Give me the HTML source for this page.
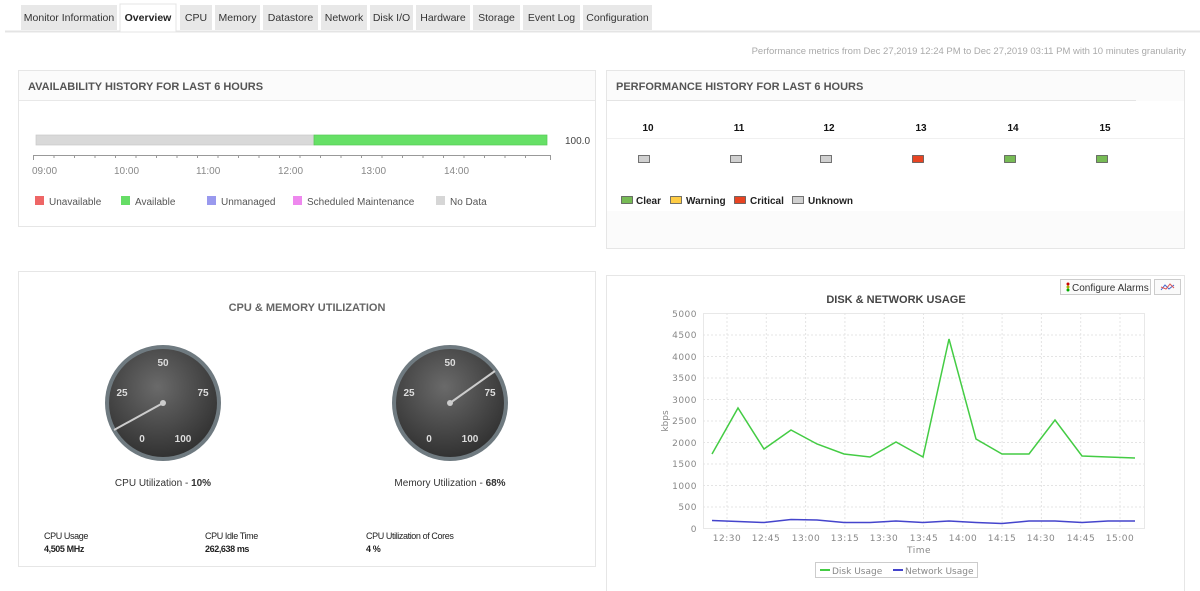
<!DOCTYPE html>
<html><head><meta charset="utf-8"><style>
body{margin:0;background:#fff;}
svg{display:block;font-family:"Liberation Sans",Arial,sans-serif;}
</style></head><body>
<svg width="1200" height="591" viewBox="0 0 1200 591" xmlns="http://www.w3.org/2000/svg">
<defs>
<radialGradient id="gg" cx="45%" cy="35%" r="70%"><stop offset="0" stop-color="#6a6a6a"/><stop offset="1" stop-color="#2e2e2e"/></radialGradient>
</defs>
<!-- tabs -->
<line x1="5" y1="31.5" x2="1200" y2="31.5" stroke="#e4e4e4" stroke-width="2"/>
<g font-size="10.5" fill="#333">
<rect x="21" y="5" width="96" height="25" fill="#e8e8e8"/><text x="69" y="21" text-anchor="middle">Monitor Information</text>
<rect x="120" y="4" width="56" height="28" fill="#fff" stroke="#e4e4e4"/><text x="148" y="21" text-anchor="middle" font-weight="bold" fill="#222">Overview</text>
<rect x="180" y="5" width="32" height="25" fill="#e8e8e8"/><text x="196" y="21" text-anchor="middle">CPU</text>
<rect x="215" y="5" width="45" height="25" fill="#e8e8e8"/><text x="237.5" y="21" text-anchor="middle">Memory</text>
<rect x="263" y="5" width="55" height="25" fill="#e8e8e8"/><text x="290.5" y="21" text-anchor="middle">Datastore</text>
<rect x="321" y="5" width="46" height="25" fill="#e8e8e8"/><text x="344" y="21" text-anchor="middle">Network</text>
<rect x="370" y="5" width="43" height="25" fill="#e8e8e8"/><text x="391.5" y="21" text-anchor="middle">Disk I/O</text>
<rect x="416" y="5" width="54" height="25" fill="#e8e8e8"/><text x="443" y="21" text-anchor="middle">Hardware</text>
<rect x="473" y="5" width="47" height="25" fill="#e8e8e8"/><text x="496.5" y="21" text-anchor="middle">Storage</text>
<rect x="523" y="5" width="57" height="25" fill="#e8e8e8"/><text x="551.5" y="21" text-anchor="middle">Event Log</text>
<rect x="583" y="5" width="69" height="25" fill="#e8e8e8"/><text x="617.5" y="21" text-anchor="middle">Configuration</text>
</g>
<text x="1186" y="54" font-size="9.5" fill="#aaa" text-anchor="end">Performance metrics from Dec 27,2019 12:24 PM to Dec 27,2019 03:11 PM with 10 minutes granularity</text>

<!-- availability panel -->
<rect x="18.5" y="70.5" width="577" height="156" fill="#fbfbfb" stroke="#e6e6e6"/>
<rect x="19" y="101" width="576" height="125" fill="#fff"/>
<line x1="19" y1="100.5" x2="595" y2="100.5" stroke="#e8e8e8"/>
<text x="28" y="90" font-size="11" font-weight="bold" fill="#555">AVAILABILITY HISTORY FOR LAST 6 HOURS</text>
<rect x="36" y="135" width="278" height="10" fill="#d9d9d9" stroke="#c8c8c8" stroke-width="0.7"/>
<rect x="314" y="135" width="233" height="10" fill="#66e066" stroke="#55c855" stroke-width="0.7"/>
<text x="565" y="144" font-size="10" fill="#444">100.0</text>
<line x1="33" y1="155.5" x2="551" y2="155.5" stroke="#999"/>
<g font-size="10" fill="#888">
<text x="32" y="174">09:00</text><text x="114" y="174">10:00</text><text x="196" y="174">11:00</text><text x="278" y="174">12:00</text><text x="361" y="174">13:00</text><text x="444" y="174">14:00</text>
</g>
<g font-size="10" fill="#555">
<rect x="35" y="196" width="9" height="9" fill="#ee6666"/><text x="49" y="205">Unavailable</text>
<rect x="121" y="196" width="9" height="9" fill="#66dd66"/><text x="135" y="205">Available</text>
<rect x="207" y="196" width="9" height="9" fill="#9999ee"/><text x="221" y="205">Unmanaged</text>
<rect x="293" y="196" width="9" height="9" fill="#ee88ee"/><text x="307" y="205">Scheduled Maintenance</text>
<rect x="436" y="196" width="9" height="9" fill="#d6d6d6"/><text x="450" y="205">No Data</text>
</g>

<!-- performance panel -->
<rect x="606.5" y="70.5" width="578" height="178" fill="#fbfbfb" stroke="#e6e6e6"/>
<rect x="607" y="101" width="577" height="110" fill="#fff"/>
<line x1="607" y1="100.5" x2="1136" y2="100.5" stroke="#e4e4e4"/>
<text x="616" y="90" font-size="11" font-weight="bold" fill="#555">PERFORMANCE HISTORY FOR LAST 6 HOURS</text>
<line x1="607" y1="138.5" x2="1184" y2="138.5" stroke="#f0f0f0"/>
<g font-size="10" font-weight="bold" fill="#111" text-anchor="middle">
<text x="648" y="131">10</text><text x="739" y="131">11</text><text x="829" y="131">12</text><text x="921" y="131">13</text><text x="1013" y="131">14</text><text x="1105" y="131">15</text>
</g>
<g stroke="#555" stroke-width="0.8">
<rect x="638.5" y="155.5" width="11" height="7" fill="#d0d0d0"/>
<rect x="730.5" y="155.5" width="11" height="7" fill="#d0d0d0"/>
<rect x="820.5" y="155.5" width="11" height="7" fill="#d0d0d0"/>
<rect x="912.5" y="155.5" width="11" height="7" fill="#e84422"/>
<rect x="1004.5" y="155.5" width="11" height="7" fill="#77bb55"/>
<rect x="1096.5" y="155.5" width="11" height="7" fill="#77bb55"/>
<rect x="621.5" y="196.5" width="11" height="7" fill="#77bb55"/>
<rect x="670.5" y="196.5" width="11" height="7" fill="#ffcc44"/>
<rect x="734.5" y="196.5" width="11" height="7" fill="#e84422"/>
<rect x="792.5" y="196.5" width="11" height="7" fill="#d0d0d0"/>
</g>
<g font-size="10" font-weight="bold" fill="#222">
<text x="636" y="204">Clear</text><text x="686" y="204">Warning</text><text x="750" y="204">Critical</text><text x="808" y="204">Unknown</text>
</g>

<!-- cpu & memory panel -->
<rect x="18.5" y="271.5" width="577" height="295" fill="#fff" stroke="#e6e6e6"/>
<text x="307" y="311" font-size="11" font-weight="bold" fill="#666" text-anchor="middle">CPU &amp; MEMORY UTILIZATION</text>
<g>
<circle cx="163" cy="403" r="58" fill="#6f7a80"/>
<circle cx="163" cy="403" r="54" fill="url(#gg)"/>
<g font-size="10" font-weight="bold" fill="#ddd" text-anchor="middle">
<text x="163" y="366">50</text><text x="122" y="396">25</text><text x="203" y="396">75</text><text x="142" y="442">0</text><text x="183" y="442">100</text>
</g>
<line x1="163" y1="403" x2="114" y2="430" stroke="#ccc" stroke-width="2"/>
<circle cx="163" cy="403" r="3" fill="#ccc"/>
</g>
<g>
<circle cx="450" cy="403" r="58" fill="#6f7a80"/>
<circle cx="450" cy="403" r="54" fill="url(#gg)"/>
<g font-size="10" font-weight="bold" fill="#ddd" text-anchor="middle">
<text x="450" y="366">50</text><text x="409" y="396">25</text><text x="490" y="396">75</text><text x="429" y="442">0</text><text x="470" y="442">100</text>
</g>
<line x1="450" y1="403" x2="495" y2="371" stroke="#ccc" stroke-width="2"/>
<circle cx="450" cy="403" r="3" fill="#ccc"/>
</g>
<text x="163" y="486" font-size="10" fill="#333" text-anchor="middle">CPU Utilization - <tspan font-weight="bold">10%</tspan></text>
<text x="450" y="486" font-size="10" fill="#333" text-anchor="middle">Memory Utilization - <tspan font-weight="bold">68%</tspan></text>
<g font-size="9" fill="#222" letter-spacing="-0.4">
<text x="44" y="539">CPU Usage</text><text x="44" y="552" font-weight="bold">4,505 MHz</text>
<text x="205" y="539">CPU Idle Time</text><text x="205" y="552" font-weight="bold">262,638 ms</text>
<text x="366" y="539">CPU Utilization of Cores</text><text x="366" y="552" font-weight="bold">4 %</text>
</g>

<!-- disk & network panel -->
<rect x="606.5" y="275.5" width="578" height="320" fill="#fff" stroke="#e6e6e6"/>
<rect x="1060.5" y="279.5" width="90" height="15" fill="#fafafa" stroke="#ccc"/>
<circle cx="1068" cy="284" r="1.5" fill="#c00"/><circle cx="1068" cy="287" r="1.5" fill="#aa0"/><circle cx="1068" cy="290" r="1.5" fill="#0a0"/>
<text x="1072" y="291" font-size="10" fill="#333">Configure Alarms</text>
<rect x="1154.5" y="279.5" width="26" height="15" fill="#fafafa" stroke="#ccc"/>
<polyline points="1161,290 1165,285 1169,289 1174,285" fill="none" stroke="#46c" stroke-width="1"/>
<polyline points="1161,287 1166,289 1170,284 1174,288" fill="none" stroke="#d55" stroke-width="1"/>
<text x="896" y="303" font-size="11" font-weight="bold" fill="#444" text-anchor="middle">DISK &amp; NETWORK USAGE</text>
<rect x="703.5" y="313.5" width="441" height="215" fill="#fff" stroke="#e8e8e8"/>
<g stroke="#e4e4e4" stroke-dasharray="2,2">
<line x1="703" y1="335" x2="1144" y2="335"/><line x1="703" y1="356.5" x2="1144" y2="356.5"/><line x1="703" y1="378" x2="1144" y2="378"/><line x1="703" y1="399.5" x2="1144" y2="399.5"/><line x1="703" y1="421" x2="1144" y2="421"/><line x1="703" y1="442.5" x2="1144" y2="442.5"/><line x1="703" y1="464" x2="1144" y2="464"/><line x1="703" y1="485.5" x2="1144" y2="485.5"/><line x1="703" y1="507" x2="1144" y2="507"/>
<line x1="727" y1="313" x2="727" y2="528"/><line x1="766.3" y1="313" x2="766.3" y2="528"/><line x1="805.6" y1="313" x2="805.6" y2="528"/><line x1="844.9" y1="313" x2="844.9" y2="528"/><line x1="884.2" y1="313" x2="884.2" y2="528"/><line x1="923.5" y1="313" x2="923.5" y2="528"/><line x1="962.8" y1="313" x2="962.8" y2="528"/><line x1="1002.1" y1="313" x2="1002.1" y2="528"/><line x1="1041.4" y1="313" x2="1041.4" y2="528"/><line x1="1080.7" y1="313" x2="1080.7" y2="528"/><line x1="1120" y1="313" x2="1120" y2="528"/>
</g>
<g font-size="9" fill="#888" text-anchor="end" font-family="DejaVu Sans,sans-serif" letter-spacing="0.5">
<text x="697" y="317">5000</text><text x="697" y="338">4500</text><text x="697" y="360">4000</text><text x="697" y="381">3500</text><text x="697" y="403">3000</text><text x="697" y="424">2500</text><text x="697" y="446">2000</text><text x="697" y="467">1500</text><text x="697" y="489">1000</text><text x="697" y="510">500</text><text x="697" y="532">0</text>
</g>
<g font-size="9" fill="#888" text-anchor="middle" font-family="DejaVu Sans,sans-serif" letter-spacing="0.5">
<text x="727" y="541">12:30</text><text x="766" y="541">12:45</text><text x="806" y="541">13:00</text><text x="845" y="541">13:15</text><text x="884" y="541">13:30</text><text x="924" y="541">13:45</text><text x="963" y="541">14:00</text><text x="1002" y="541">14:15</text><text x="1041" y="541">14:30</text><text x="1081" y="541">14:45</text><text x="1120" y="541">15:00</text>
<text x="919" y="553">Time</text>
</g>
<text x="0" y="0" font-size="9" fill="#888" font-family="DejaVu Sans,sans-serif" text-anchor="middle" transform="translate(668,421) rotate(-90)">kbps</text>
<polyline fill="none" stroke="#44cc44" stroke-width="1.5" points="712,454 738,408 764,449 791,430 817,444 844,454 870,457 896,442 923,457 949,339 976,439 1002,454 1029,454 1055,420 1082,456 1108,457 1135,458"/>
<polyline fill="none" stroke="#4444cc" stroke-width="1.5" points="712,520.5 738,521.5 764,522.5 791,519.5 817,520 844,522.5 870,522.5 896,521 923,522.5 949,521 976,522.5 1002,523.5 1029,521 1055,521 1082,522.5 1108,521 1135,521"/>
<rect x="815.5" y="562.5" width="162" height="15" fill="#fff" stroke="#ccc"/>
<line x1="820" y1="570" x2="830" y2="570" stroke="#44cc44" stroke-width="2"/>
<text x="832" y="574" font-size="9" fill="#888" font-family="DejaVu Sans,sans-serif">Disk Usage</text>
<line x1="893" y1="570" x2="903" y2="570" stroke="#4444cc" stroke-width="2"/>
<text x="905" y="574" font-size="9" fill="#888" font-family="DejaVu Sans,sans-serif">Network Usage</text>
<!-- availability ticks -->
<g stroke="#999">
<line x1="33.5" y1="155" x2="33.5" y2="160"/><line x1="54" y1="155" x2="54" y2="158"/><line x1="74.5" y1="155" x2="74.5" y2="158"/><line x1="95" y1="155" x2="95" y2="158"/><line x1="115.5" y1="155" x2="115.5" y2="158"/><line x1="136" y1="155" x2="136" y2="158"/><line x1="156.5" y1="155" x2="156.5" y2="158"/><line x1="177" y1="155" x2="177" y2="158"/><line x1="197.5" y1="155" x2="197.5" y2="158"/><line x1="218" y1="155" x2="218" y2="158"/><line x1="238.5" y1="155" x2="238.5" y2="158"/><line x1="259" y1="155" x2="259" y2="158"/><line x1="279.5" y1="155" x2="279.5" y2="158"/><line x1="300" y1="155" x2="300" y2="158"/><line x1="320.5" y1="155" x2="320.5" y2="158"/><line x1="341" y1="155" x2="341" y2="158"/><line x1="361.5" y1="155" x2="361.5" y2="158"/><line x1="382" y1="155" x2="382" y2="158"/><line x1="402.5" y1="155" x2="402.5" y2="158"/><line x1="423" y1="155" x2="423" y2="158"/><line x1="443.5" y1="155" x2="443.5" y2="158"/><line x1="464" y1="155" x2="464" y2="158"/><line x1="484.5" y1="155" x2="484.5" y2="158"/><line x1="505" y1="155" x2="505" y2="158"/><line x1="525.5" y1="155" x2="525.5" y2="158"/><line x1="550.5" y1="155" x2="550.5" y2="160"/>
</g>
</svg>
</body></html>
